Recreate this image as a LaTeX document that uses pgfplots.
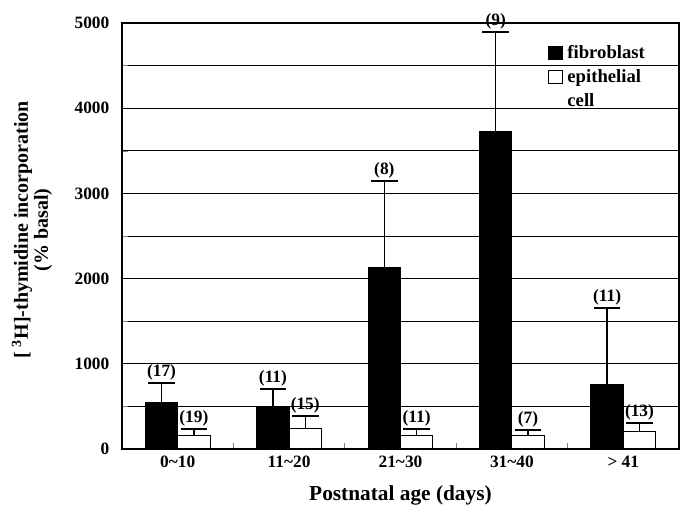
\documentclass[border=0pt]{standalone}
\usepackage{fontspec}
\setmainfont{Liberation Serif}
\usepackage{pgfplots}
\usepackage{pgfplotstable}
\pgfplotsset{compat=1.18}
\pgfplotstableread{
x fib fiberr fibn epi epierr epin
0 540 238 17 164 67 19
1 500 200 11 235 156 15
2 2130 1016 8 153 78 11
3 3730 1160 9 153 70 7
4 760 891 11 203 106 13
}\datatable
\begin{document}
\begin{tikzpicture}
\begin{axis}[
  scale only axis, width=417.75pt, height=319.5pt,
  at={(0,0)}, anchor=south west,
  xmin=-0.5, xmax=4.5, ymin=0, ymax=5000,
  ybar, bar width=0.29,
  axis line style={line width=0.8pt},
  xtick={0,1,2,3,4},
  xticklabels={0\textasciitilde 10, 11\textasciitilde 20, 21\textasciitilde 30, 31\textasciitilde 40, > 41},
  minor xtick={0.5,1.5,2.5,3.5},
  ytick={0,1000,...,5000},
  minor ytick={500,1500,...,4500},
  ymajorgrids, yminorgrids,
  grid style={black, line width=0.6pt},
  minor grid style={black, line width=0.6pt},
  major tick length=0pt,
  minor x tick style={line width=0.6pt},
  minor tick length=4.5pt,
  tick align=inside,
  tick pos=left,
  scaled y ticks=false,
  /pgf/number format/assume math mode=true,
  /pgf/number format/1000 sep={},
  tick label style={font=\bfseries\fontsize{13}{13}\selectfont, text=black},
  yticklabel style={xshift=-6pt},
  xticklabel style={yshift=-2pt},
  xlabel={Postnatal age (days)},
  xlabel style={font=\bfseries\fontsize{16}{16}\selectfont, at={(axis description cs:0.5,-0.108)}, anchor=center},
  ylabel={[ \textsuperscript{3}H]-thymidine incorporation\\(\% basal)},
  ylabel style={align=center, font=\bfseries\fontsize{15}{15}\selectfont, at={(axis description cs:-0.1616,0.514)}, anchor=center},
  legend style={at={(axis description cs:0.765,0.955)}, anchor=north west, draw=none, fill=none,
    font=\bfseries\fontsize{14}{14}\selectfont, row sep=3pt, inner sep=0pt, nodes={inner sep=2pt}},
  legend cell align=left,
  error bars/error bar style={line width=1.1pt, black},
  error bars/error mark options={rotate=90, line width=1.4pt, mark size=10pt, black},
]
\addplot[fill=black, draw=black, line width=0.75pt, bar shift=-0.145,
  legend image code/.code={\draw[fill=black,draw=black,line width=0.6pt] (0pt,-5pt) rectangle (10pt,5pt); \path[draw=none,fill=none] (0pt,0pt) -- (12pt,0pt);},
  error bars/.cd, y dir=plus, y explicit]
  table[x=x, y=fib, y error=fiberr] {\datatable};
\addlegendentry{fibroblast}
\addplot[fill=white, draw=black, line width=0.75pt, bar shift=0.145,
  legend image code/.code={\draw[fill=white,draw=black,line width=0.6pt] (0pt,-5pt) rectangle (10pt,5pt); \path[draw=none,fill=none] (0pt,0pt) -- (12pt,0pt);},
  error bars/.cd, y dir=plus, y explicit]
  table[x=x, y=epi, y error=epierr] {\datatable};
\addlegendentry{epithelial}
\addlegendimage{empty legend}
\addlegendentry{cell}
\addplot[draw=none, fill=none, bar shift=-0.145, forget plot,
  point meta=explicit symbolic, nodes near coords={(\pgfplotspointmeta)},
  nodes near coords style={font=\bfseries\fontsize{13}{13}\selectfont, anchor=south, inner sep=2pt, text=black}]
  table[x=x, y expr=\thisrow{fib}+\thisrow{fiberr}, meta=fibn] {\datatable};
\addplot[draw=none, fill=none, bar shift=0.145, forget plot,
  point meta=explicit symbolic, nodes near coords={(\pgfplotspointmeta)},
  nodes near coords style={font=\bfseries\fontsize{13}{13}\selectfont, anchor=south, inner sep=2pt, text=black}]
  table[x=x, y expr=\thisrow{epi}+\thisrow{epierr}, meta=epin] {\datatable};
\end{axis}
\pgfresetboundingbox
\path (-91.5pt,-48pt) rectangle (426pt,336.75pt);
\end{tikzpicture}
\end{document}
